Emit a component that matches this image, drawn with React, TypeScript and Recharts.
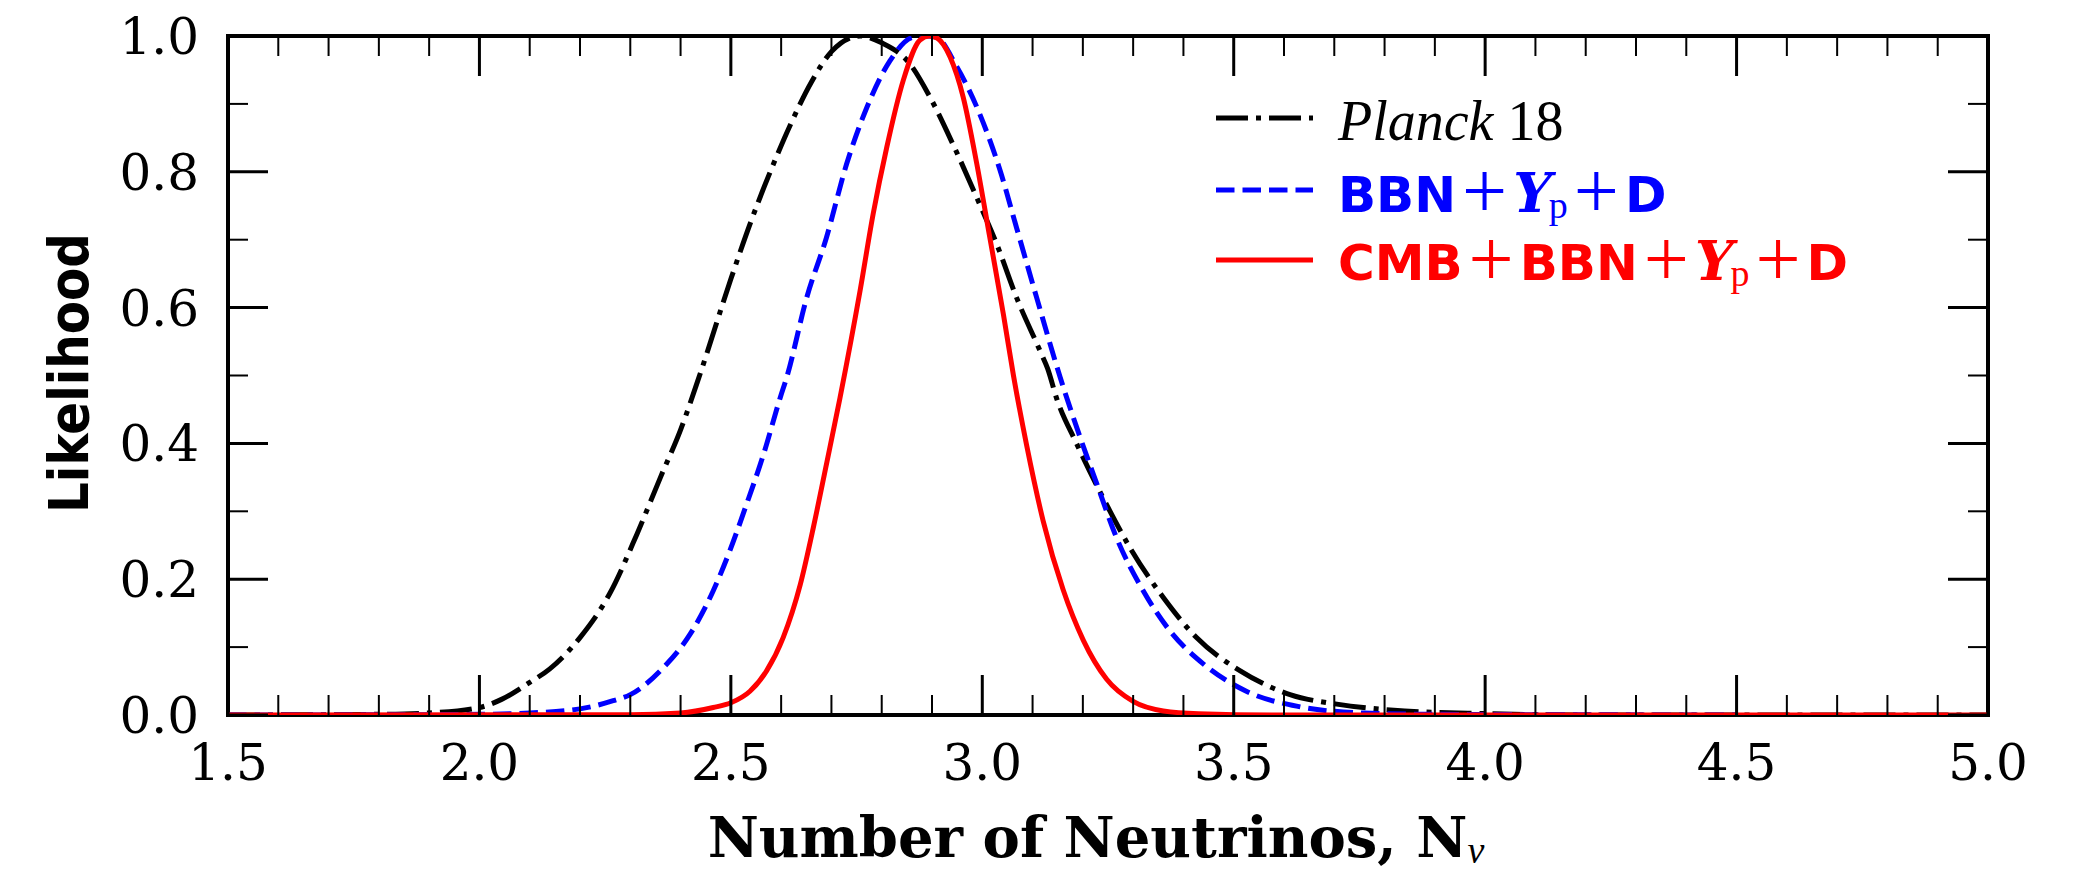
import { LineChart, Line, XAxis, YAxis, ReferenceArea, Legend } from "recharts";

// Likelihood curves (N_nu, normalised likelihood)
const PLANCK_N = [1.5, 1.8, 1.9, 2.0, 2.044, 2.1, 2.14, 2.2, 2.26, 2.313, 2.36, 2.4, 2.44, 2.5, 2.54, 2.58, 2.62, 2.66, 2.7, 2.757, 2.8, 2.856, 2.896, 2.942, 2.989, 3.029, 3.068, 3.115, 3.13, 3.148, 3.188, 3.247, 3.294, 3.36, 3.426, 3.513, 3.612, 3.705, 3.84, 4.0, 4.2, 5.0];
const PLANCK_L = [0, 0.001, 0.003, 0.011, 0.023, 0.048, 0.068, 0.114, 0.18, 0.266, 0.35, 0.42, 0.505, 0.642, 0.727, 0.803, 0.872, 0.932, 0.977, 1.0, 0.99, 0.959, 0.91, 0.84, 0.762, 0.693, 0.615, 0.536, 0.51, 0.466, 0.399, 0.31, 0.246, 0.173, 0.114, 0.065, 0.03, 0.016, 0.006, 0.002, 0, 0];

const BBN_N = [1.5, 1.9, 2.0, 2.1, 2.2, 2.266, 2.3, 2.366, 2.419, 2.465, 2.498, 2.531, 2.565, 2.598, 2.611, 2.651, 2.69, 2.73, 2.77, 2.816, 2.862, 2.89, 2.909, 2.949, 2.995, 3.035, 3.068, 3.108, 3.155, 3.195, 3.228, 3.267, 3.32, 3.373, 3.44, 3.525, 3.625, 3.757, 3.9, 4.5];
const BBN_L = [0, 0.0005, 0.001, 0.003, 0.009, 0.021, 0.03, 0.07, 0.119, 0.183, 0.242, 0.31, 0.384, 0.467, 0.497, 0.615, 0.703, 0.811, 0.894, 0.963, 0.998, 1.0, 0.998, 0.955, 0.885, 0.803, 0.718, 0.615, 0.497, 0.408, 0.34, 0.261, 0.183, 0.124, 0.075, 0.035, 0.013, 0.003, 0.001, 0];

const CMB_N = [1.5, 2.3, 2.4, 2.465, 2.5, 2.538, 2.571, 2.604, 2.638, 2.664, 2.69, 2.717, 2.757, 2.783, 2.81, 2.843, 2.876, 2.895, 2.91, 2.936, 2.962, 2.989, 3.015, 3.042, 3.062, 3.088, 3.121, 3.161, 3.201, 3.247, 3.3, 3.36, 3.43, 3.6, 5.0];
const CMB_L = [0, 0.0005, 0.003, 0.011, 0.018, 0.035, 0.065, 0.114, 0.192, 0.276, 0.369, 0.467, 0.625, 0.738, 0.836, 0.935, 0.994, 1.0, 0.997, 0.969, 0.91, 0.812, 0.703, 0.59, 0.5, 0.398, 0.286, 0.184, 0.11, 0.053, 0.02, 0.006, 0.002, 0, 0];

const X_MAJOR = [1.5, 2.0, 2.5, 3.0, 3.5, 4.0, 4.5, 5.0];
const X_TICKS = [
  1.5, 1.6, 1.7, 1.8, 1.9, 2.0, 2.1, 2.2, 2.3, 2.4, 2.5, 2.6, 2.7, 2.8, 2.9, 3.0, 3.1, 3.2,
  3.3, 3.4, 3.5, 3.6, 3.7, 3.8, 3.9, 4.0, 4.1, 4.2, 4.3, 4.4, 4.5, 4.6, 4.7, 4.8, 4.9, 5.0,
];
const Y_MAJOR = [0, 0.2, 0.4, 0.6, 0.8, 1.0];
const Y_TICKS = [0, 0.1, 0.2, 0.3, 0.4, 0.5, 0.6, 0.7, 0.8, 0.9, 1.0];

const toPoints = (xs: number[], ys: number[]) => xs.map((x, i) => ({ x, y: ys[i] }));
const planck = toPoints(PLANCK_N, PLANCK_L);
const bbn = toPoints(BBN_N, BBN_L);
const cmb = toPoints(CMB_N, CMB_L);

const W = 2080;
const H = 873;
const PLOT_LEFT = 228;
const PLOT_TOP = 36;
const PLOT_W = 1760;
const PLOT_H = 679;

const SERIF = "'Liberation Serif', 'Times New Roman', serif";
const DSERIF = "'DejaVu Serif', serif";
const SANS = "'DejaVu Sans', sans-serif";

const isMajor = (list: number[], v: number) => list.some((m) => Math.abs(m - v) < 1e-6);

function XTick({ x, y, payload }: any) {
  const v = payload.value;
  const major = isMajor(X_MAJOR, v);
  const len = major ? 40 : 20;
  const sw = major ? 3 : 2;
  const top = y - PLOT_H;
  return (
    <g>
      <line x1={x} y1={y} x2={x} y2={y - len} stroke="#000" strokeWidth={sw} />
      <line x1={x} y1={top} x2={x} y2={top + len} stroke="#000" strokeWidth={sw} />
      {major && (
        <text x={x} y={y + 65} textAnchor="middle" fontFamily={DSERIF} fontSize={50} fill="#000">
          {v.toFixed(1)}
        </text>
      )}
    </g>
  );
}

function YTick({ x, y, payload }: any) {
  const v = payload.value;
  const major = isMajor(Y_MAJOR, v);
  const len = major ? 40 : 20;
  const sw = major ? 3 : 2;
  const right = x + PLOT_W;
  return (
    <g>
      <line x1={x} y1={y} x2={x + len} y2={y} stroke="#000" strokeWidth={sw} />
      <line x1={right} y1={y} x2={right - len} y2={y} stroke="#000" strokeWidth={sw} />
      {major && (
        <text x={x - 29} y={y + 18} textAnchor="end" fontFamily={DSERIF} fontSize={50} fill="#000">
          {v.toFixed(1)}
        </text>
      )}
    </g>
  );
}

function XLabel() {
  return (
    <text x={1096} y={857} textAnchor="middle" fontFamily={DSERIF} fontWeight="bold" fontSize={56} fill="#000">
      Number of Neutrinos, N
      <tspan fontFamily={SERIF} fontStyle="italic" fontWeight="normal" fontSize={38} dy={6}>
        ν
      </tspan>
    </text>
  );
}

function YLabel() {
  return (
    <text
      transform="translate(88, 373) rotate(-90)"
      textAnchor="middle"
      fontFamily={SANS}
      fontWeight="bold"
      fontSize={56}
      textLength={280}
      lengthAdjust="spacingAndGlyphs"
      fill="#000"
    >
      Likelihood
    </text>
  );
}

// pieces of the mixed-font legend labels; each sets its own baseline
const GAP = 6;

function Plus({ base }: { base: number }) {
  return (
    <tspan y={base + 6} dx={GAP} fontFamily={SERIF} fontWeight="normal" fontStyle="normal" fontSize={80}>
      +
    </tspan>
  );
}

function Sans({ base, gap = 0, children }: { base: number; gap?: number; children: string }) {
  return (
    <tspan y={base} dx={gap} fontFamily={SANS} fontWeight="bold" fontStyle="normal" fontSize={50}>
      {children}
    </tspan>
  );
}

function Yp({ base }: { base: number }) {
  return (
    <>
      <tspan y={base} dx={GAP} fontFamily={DSERIF} fontWeight="bold" fontStyle="italic" fontSize={54}>
        Y
      </tspan>
      <tspan y={base + 6} dx={-3} fontFamily={SERIF} fontWeight="normal" fontStyle="normal" fontSize={38}>
        p
      </tspan>
    </>
  );
}

function LegendBox() {
  return (
    <svg width={720} height={250} style={{ display: "block" }}>
      <line x1={16} y1={58} x2={113} y2={58} stroke="#000" strokeWidth={5} strokeDasharray="32 8 5 8" />
      <line x1={16} y1={130} x2={113} y2={130} stroke="#0000ff" strokeWidth={5} strokeDasharray="18.5 8" />
      <line x1={16} y1={200} x2={113} y2={200} stroke="#ff0000" strokeWidth={5} />

      <text x={138} y={80} fill="#000" fontFamily={SERIF} fontSize={56}>
        <tspan fontStyle="italic">Planck</tspan>
        <tspan dx={14}>18</tspan>
      </text>

      <text x={138} y={152} fill="#0000ff">
        <Sans base={152}>BBN</Sans>
        <Plus base={152} />
        <Yp base={152} />
        <Plus base={152} />
        <Sans base={152} gap={GAP}>D</Sans>
      </text>

      <text x={138} y={220} fill="#ff0000">
        <Sans base={220}>CMB</Sans>
        <Plus base={220} />
        <Sans base={220} gap={GAP}>BBN</Sans>
        <Plus base={220} />
        <Yp base={220} />
        <Plus base={220} />
        <Sans base={220} gap={GAP}>D</Sans>
      </text>
    </svg>
  );
}

export default function App() {
  return (
    <div style={{ position: "absolute", left: 0, top: 0, width: W, height: H, background: "#fff" }}>
      <LineChart width={W} height={H} margin={{ top: PLOT_TOP, right: W - PLOT_LEFT - PLOT_W, left: 0, bottom: 0 }}>
        <XAxis
          dataKey="x"
          type="number"
          domain={[1.5, 5]}
          ticks={X_TICKS}
          interval={0}
          allowDataOverflow
          height={H - PLOT_TOP - PLOT_H}
          axisLine={false}
          tickLine={false}
          tickSize={0}
          tickMargin={0}
          tick={(p: any) => <XTick {...p} />}
          label={() => <XLabel />}
        />
        <YAxis
          type="number"
          domain={[0, 1]}
          ticks={Y_TICKS}
          interval={0}
          allowDataOverflow
          width={PLOT_LEFT}
          axisLine={false}
          tickLine={false}
          tickSize={0}
          tickMargin={0}
          tick={(p: any) => <YTick {...p} />}
          label={() => <YLabel />}
        />
        <ReferenceArea x1={1.5} x2={5} y1={0} y2={1} fill="none" stroke="#000" strokeWidth={4} ifOverflow="visible" />
        <Line
          data={planck}
          dataKey="y"
          name="Planck 18"
          type="monotone"
          stroke="#000"
          strokeWidth={5}
          strokeDasharray="32 8 5 8"
          dot={false}
          activeDot={false}
          isAnimationActive={false}
        />
        <Line
          data={bbn}
          dataKey="y"
          name="BBN+Yp+D"
          type="monotone"
          stroke="#0000ff"
          strokeWidth={5}
          strokeDasharray="18.5 8"
          dot={false}
          activeDot={false}
          isAnimationActive={false}
        />
        <Line
          data={cmb}
          dataKey="y"
          name="CMB+BBN+Yp+D"
          type="monotone"
          stroke="#ff0000"
          strokeWidth={5}
          dot={false}
          activeDot={false}
          isAnimationActive={false}
        />
        <Legend
          layout="horizontal"
          verticalAlign="middle"
          align="center"
          content={() => <LegendBox />}
          wrapperStyle={{ left: 1200, top: 60, width: 720, height: 250 }}
        />
      </LineChart>
    </div>
  );
}
